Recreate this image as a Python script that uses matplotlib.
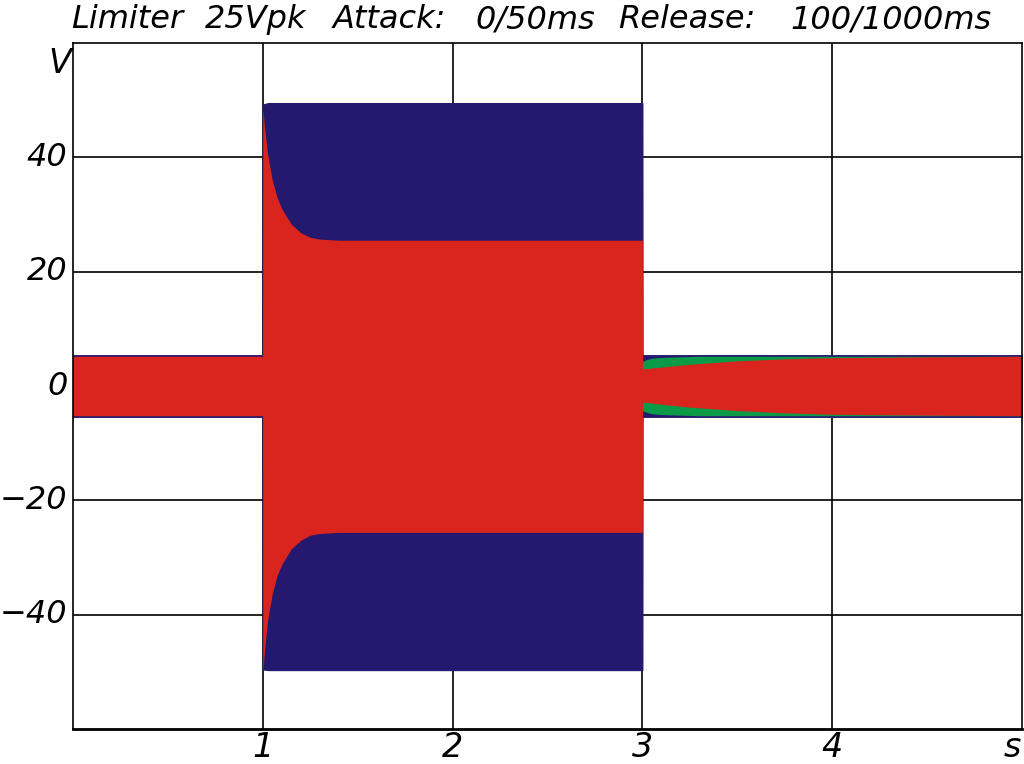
import matplotlib
matplotlib.use("Agg")
import matplotlib.pyplot as plt

# Envelope key points (time s, peak V)
blue_t = [0.0, 0.999, 1.0, 1.004, 1.03, 3.0, 3.001, 5.0]
blue_top = [5.4, 5.4, 48.8, 49.3, 49.5, 49.5, 5.4, 5.4]
blue_bot = [-5.4, -5.4, -49.0, -49.6, -49.7, -49.7, -5.4, -5.4]

red_t = [0.0, 0.999, 1.0, 1.01, 1.025, 1.05, 1.075, 1.1, 1.15, 1.2, 1.25, 1.3, 1.4,
         3.0, 3.001, 3.1, 3.25, 3.5, 3.75, 4.0, 4.5, 5.0]
red_top = [5.2, 5.2, 48.5, 45.0, 40.5, 36.0, 33.0, 31.0, 28.3, 26.8, 26.0, 25.7, 25.5,
           25.5, 3.0, 3.3, 3.8, 4.4, 4.75, 4.95, 5.1, 5.2]
red_bot = [-5.2, -5.2, -50.0, -46.0, -41.0, -36.3, -33.2, -31.2, -28.5, -27.0, -26.1, -25.8, -25.6,
           -25.6, -2.8, -3.2, -3.7, -4.3, -4.7, -4.95, -5.1, -5.2]

green_t = [3.0, 3.02, 3.05, 3.1, 3.3, 5.0]
green_top = [4.3, 4.6, 4.85, 5.0, 5.2, 5.2]
green_bot = [-4.3, -4.6, -4.85, -5.0, -5.2, -5.2]

x_ticks = [1, 2, 3, 4]
y_ticks = [-40, -20, 0, 20, 40]
title_words = ["Limiter", "25Vpk", "Attack:", "0/50ms", "Release:", "100/1000ms"]
title_word_x = [127, 256, 389, 535, 687, 891]  # word centres in pixels

BLUE = "#24196e"
RED = "#d9251d"
GREEN = "#0b9a48"

W, H = 1024, 764
fig = plt.figure(figsize=(W / 100, H / 100), dpi=100)
ax = fig.add_axes([73 / W, 1 - 729 / H, (1022 - 73) / W, (729 - 43) / H])
ax.set_xlim(0, 5)
ax.set_ylim(-60, 60)

ax.fill_between(blue_t, blue_bot, blue_top, color=BLUE, lw=0.8, zorder=2)
ax.fill_between(green_t, green_bot, green_top, color=GREEN, lw=0, zorder=3)
ax.fill_between(red_t, red_bot, red_top, color=RED, lw=0, zorder=4)

for x in x_ticks:
    ax.axvline(x, color="black", lw=1.2, zorder=1)
for y in y_ticks:
    ax.axhline(y, color="black", lw=1.2, zorder=1)

for s in ax.spines.values():
    s.set_linewidth(1.2)
    s.set_zorder(5)
ax.spines["bottom"].set_linewidth(2)

ax.set_xticks([])
ax.set_yticks([])

font = dict(family="DejaVu Sans", style="italic", fontsize=24)
yfont = dict(family="DejaVu Sans", style="italic", fontsize=23)
for x in x_ticks:
    ax.text(x, -63.2, str(x), ha="center", va="center", clip_on=False, **font)
ax.text(4.95, -63.2, "s", ha="center", va="center", **font)
for y in y_ticks:
    lab = str(y).replace("-", "\u2212")
    ax.text(-0.03, y, lab, ha="right", va="center", **yfont)
ax.text(-0.01, 56.5, "V", ha="right", va="center", **font)

tfont = dict(family="DejaVu Sans", style="italic", fontsize=23)
for w, xp in zip(title_words, title_word_x):
    fig.text(xp / W, 1 - 28 / H, w, ha="center", va="baseline", **tfont)

fig.savefig("out.png", dpi=100)
